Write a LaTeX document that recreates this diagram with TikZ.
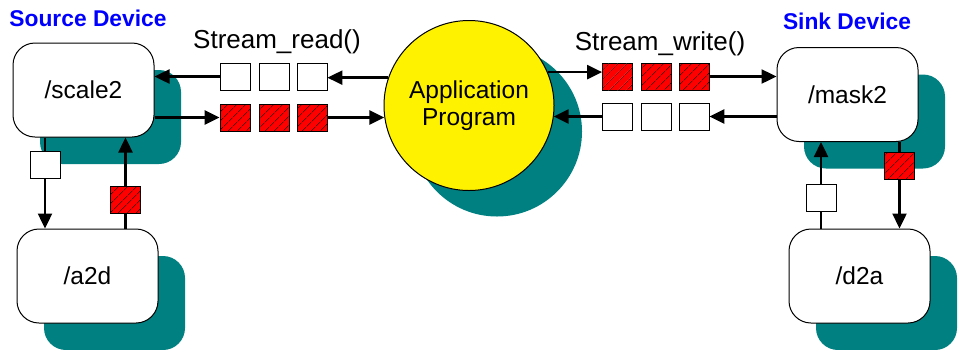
\documentclass[tikz,border=0pt]{standalone}
\usepackage{fontspec}
\setmainfont{Liberation Sans}
\usetikzlibrary{arrows.meta,shadows,patterns.meta}
\definecolor{shade}{RGB}{0,128,128}
\definecolor{devblue}{RGB}{0,0,255}

\begin{document}
\begin{tikzpicture}[x=1pt, y=-1pt,
    dev/.style={draw, fill=white, rounded corners=22pt, minimum width=141pt, minimum height=94pt,
        line width=1pt, font=\fontsize{24.5}{28}\selectfont,
        general shadow={fill=shade, shadow xshift=27pt, shadow yshift=-27pt}},
    prog/.style={circle, draw, fill=yellow, minimum size=170pt, inner sep=0pt, line width=1pt,
        align=center, font=\fontsize{24.5}{27}\selectfont,
        general shadow={fill=shade, shadow xshift=28pt, shadow yshift=-26pt}},
    empty/.style={draw, fill=white, minimum width=30pt, minimum height=27pt, inner sep=0pt, line width=0.8pt},
    full/.style={empty, fill=red, postaction={pattern color=black,
        pattern={Lines[angle=45, distance=6.5pt, line width=0.7pt]}}},
    title/.style={text=devblue, font=\fontsize{22.8}{26}\selectfont\bfseries},
    call/.style={font=\fontsize{26}{30}\selectfont},
    flow/.style={line width=2.4pt, -{Triangle[length=15pt, width=14pt]}},
    link/.style={line width=2.4pt}]
    \useasboundingbox (0,0) rectangle (960,349);

    % devices and program
    \draw
    (83.5, 90) node[dev](scale) {/scale2}
    (87.5, 276) node[dev](atod) {/a2d}
    (847.5, 94.5) node[dev](mask) {/mask2}
    (859.5, 276) node[dev](dtoa) {/d2a}
    (469, 105.5) node[prog](app) {Application\\Program};

    \draw
    (88, 18) node[title](src) {Source Device}
    (847, 21) node[title](snk) {Sink Device}
    (277, 42) node[call](rd) {Stream\_read()}
    (660, 44) node[call](wr) {Stream\_write()};

    % buffers
    \draw
    (235, 76.5) node[empty](rin1) {}
    (274, 76.5) node[empty](rin2) {}
    (312, 76.5) node[empty](rin3) {}
    (235, 117.5) node[full](rout1) {}
    (274, 117.5) node[full](rout2) {}
    (312, 117.5) node[full](rout3) {}
    (617.5, 76.5) node[full](wout1) {}
    (656, 76.5) node[full](wout2) {}
    (694, 76.5) node[full](wout3) {}
    (617.5, 116.5) node[empty](win1) {}
    (656, 116.5) node[empty](win2) {}
    (694, 116.5) node[empty](win3) {}
    (45, 164.5) node[empty](lw) {}
    (125.5, 199.5) node[full](lr) {}
    (821, 197.5) node[empty](rw) {}
    (899.5, 165.5) node[full](rr) {};

    \draw[flow] (app.161) -> (app.161 -| rin3.east);
    \draw[flow] (rin1.west) -> (rin1.west -| scale.east);
    \draw[flow] (scale.east |- rout1.west) -> (rout1.west);
    \draw[flow] (rout3.east) -> (rout3.east -| app.188);
    \draw[flow] (app.23) -> (app.23 -| wout1.west);
    \draw[flow] (wout3.east) -> (wout3.east -| mask.west);
    \draw[flow] (mask.west |- win3.east) -> (win3.east);
    \draw[flow] (win1.west) -> (win1.west -| app.-8);

    \draw[link] (scale.south -| lw.north) -- (lw.north);
    \draw[flow] (lw.south) -> (lw.south |- atod.north);
    \draw[link] (atod.north -| lr.south) -- (lr.south);
    \draw[flow] (lr.north) -> (lr.north |- scale.south);
    \draw[link] (dtoa.north -| rw.south) -- (rw.south);
    \draw[flow] (rw.north) -> (rw.north |- mask.south);
    \draw[link] (mask.south -| rr.north) -- (rr.north);
    \draw[flow] (rr.south) -> (rr.south |- dtoa.north);

\end{tikzpicture}
\end{document}
